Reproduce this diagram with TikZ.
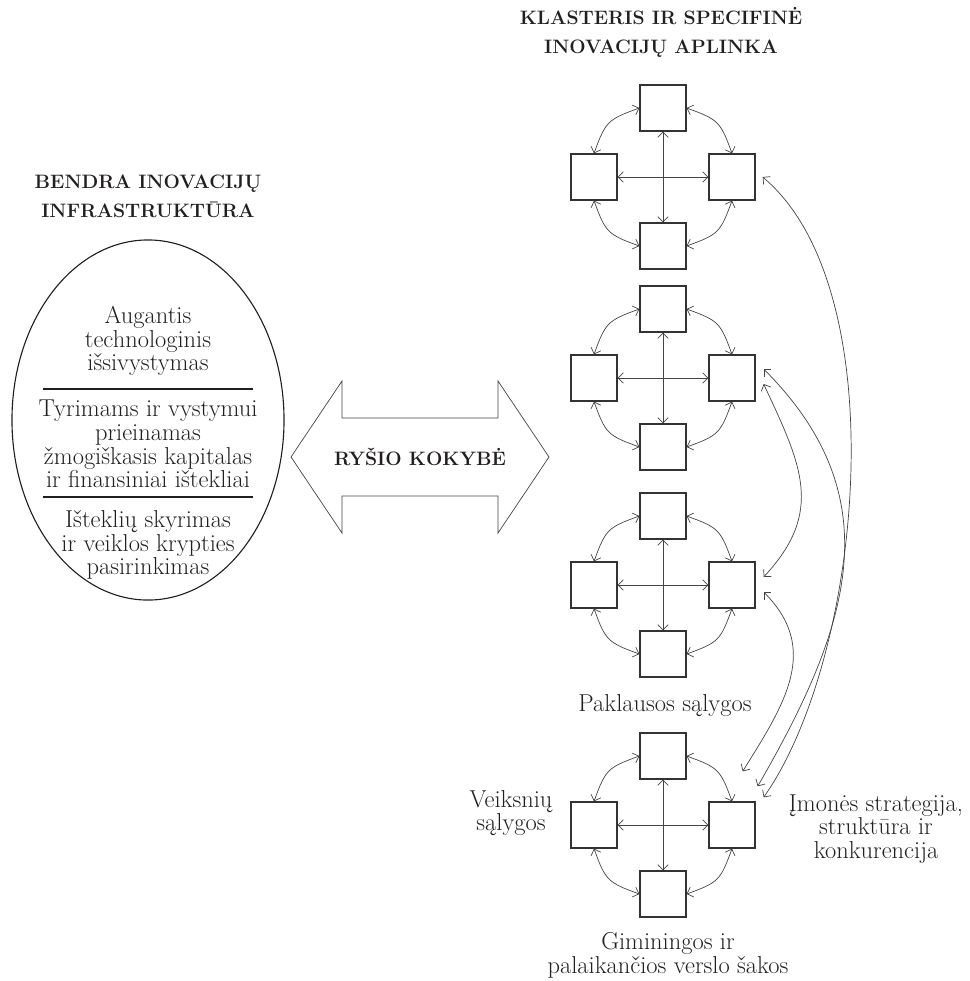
\documentclass[tikz,border=0pt]{standalone}
\usepackage{fontspec}
\usetikzlibrary{arrows.meta,calc,shapes.geometric}
\definecolor{boxgray}{HTML}{333333}
\definecolor{linkgray}{HTML}{444444}
\definecolor{inkblack}{HTML}{231F20}
\newcommand{\bodyfont}{\fontsize{17.4}{16.9}\selectfont}
\newcommand{\headfont}{\fontsize{13.8}{20.6}\selectfont\bfseries}
\newcommand{\drawsq}{\node[draw=boxgray, line width=0.9pt, rectangle, minimum size=1.15cm, inner sep=0]}
\newcommand{\drawtext}{\node[align=center, text=inkblack, font=\bodyfont, inner sep=0]}
\newcommand{\drawhead}{\node[align=center, text=inkblack, font=\headfont, inner sep=0]}
% one cluster of four boxes: #1 name, #2 y of its centre
\newcommand{\drawcluster}[2]{%
\drawsq (#1t) at (663,#2+69) {};
\drawsq (#1l) at (594,#2) {};
\drawsq (#1r) at (732,#2) {};
\drawsq (#1b) at (663,#2-69) {};
\draw[link] (#1l) -- (#1r);
\draw[link] (#1t) -- (#1b);
\draw[link] (#1t.west) to[out=200,in=70,looseness=1.35] (#1l.north);
\draw[link] (#1t.east) to[out=-20,in=110,looseness=1.35] (#1r.north);
\draw[link] (#1l.south) to[out=-70,in=160,looseness=1.35] (#1b.west);
\draw[link] (#1r.south) to[out=250,in=20,looseness=1.35] (#1b.east);
}

\begin{document}
\begin{tikzpicture}[x=0.025cm, y=0.025cm,
  >={Straight Barb[length=1.3mm,width=2.6mm]},
  link/.style={<->, draw=linkgray, line width=0.5pt},
  rule/.style={draw=inkblack, line width=1.2pt}]
\useasboundingbox (0,0) rectangle (969,-981);

%left side: infrastructure
\drawhead (infrahead) at (148,-196) {BENDRA INOVACIJŲ\\INFRASTRUKTŪRA};
\node[draw=inkblack, line width=0.8pt, ellipse, minimum width=6.8cm, minimum height=9cm, inner sep=0] (infra) at (148,-420) {};
\drawtext (aug) at (148,-341) {Augantis\\technologinis\\išsivystymas};
\drawtext (tyr) at (148,-444) {Tyrimams ir vystymui\\prieinamas\\žmogiškasis kapitalas\\ir finansiniai ištekliai};
\drawtext (ist) at (148,-545) {Išteklių skyrimas\\ir veiklos krypties\\pasirinkimas};
\draw[rule] (43,-389) -- (253,-389);
\draw[rule] (43,-497) -- (253,-497);

%link quality
\draw[draw=linkgray, line width=0.5pt] (291,-457) -- (342,-381) -- (342,-418) -- (498,-418) -- (498,-381)
  -- (549,-457) -- (498,-533) -- (498,-496) -- (342,-496) -- (342,-533) -- cycle;
\drawhead (rysys) at (420,-457) {RYŠIO KOKYBĖ};

%right side: clusters
\drawhead (clhead) at (661,-32) {KLASTERIS IR SPECIFINĖ\\INOVACIJŲ APLINKA};
\drawcluster{c1}{-177}
\drawcluster{c2}{-378}
\drawcluster{c3}{-585}
\drawcluster{c4}{-825}

\drawtext (demand) at (665,-706) {Paklausos sąlygos};
\drawtext (factor) at (511,-813) {Veiksnių\\sąlygos};
\drawtext (firm) at (876,-829) {Įmonės strategija,\\struktūra ir\\konkurencija};
\drawtext (related) at (668,-955) {Giminingos ir\\palaikančios verslo šakos};

%long links between clusters
\draw[link] ($(c1r.east)+(7,0)$) to[out=-40,in=55,looseness=0.72] ($(c4r.north east)+(8,4)$);
\draw[link] ($(c2r.east)+(8,9)$) to[out=-45,in=60,looseness=1.12] ($(c4r.north east)+(2,15)$);
\draw[link] ($(c2r.east)+(8,-6)$) to[out=-65,in=47,looseness=1.19] ($(c3r.east)+(8,8)$);
\draw[link] ($(c3r.east)+(8,-7)$) to[out=-45,in=58,looseness=1.14] ($(c4r.north east)+(-13,30)$);
\end{tikzpicture}
\end{document}
